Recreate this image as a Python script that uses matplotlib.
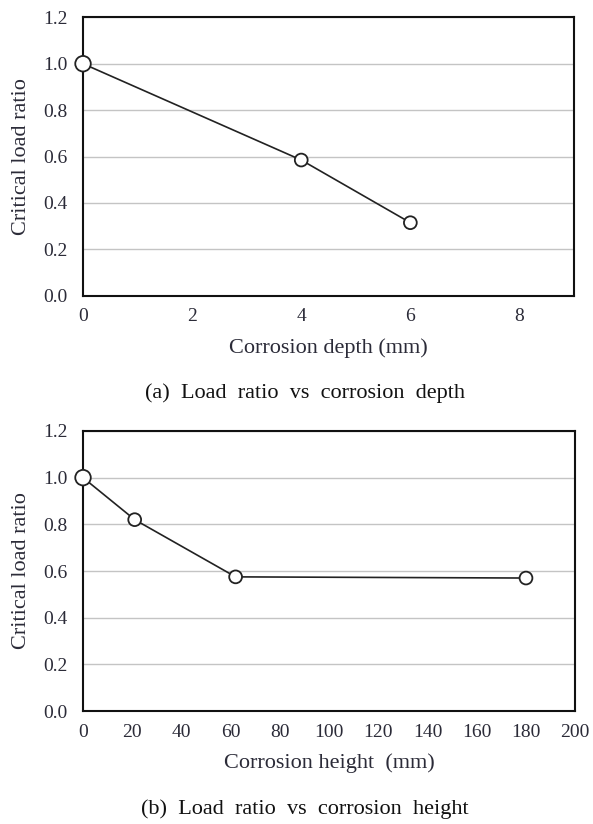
import numpy as np
import matplotlib
matplotlib.use("Agg")
import matplotlib.pyplot as plt

plt.rcParams['font.family'] = ['Liberation Serif', 'DejaVu Serif']

# (a) load ratio vs corrosion depth
depth = [0, 4, 6]
ratio_depth = [1.0, 0.585, 0.315]
depth_ticks = [0, 2, 4, 6, 8]

# (b) load ratio vs corrosion height
height = [0, 21, 62, 180]
ratio_height = [1.0, 0.82, 0.575, 0.57]
height_ticks = [0, 20, 40, 60, 80, 100, 120, 140, 160, 180, 200]

y_ticks = [0.0, 0.2, 0.4, 0.6, 0.8, 1.0, 1.2]

fig = plt.figure(figsize=(5.93, 8.24), dpi=100)
fig.patch.set_facecolor("white")

txt = "#2b2b38"

def style_axes(ax, xticks, xlim, xlabel):
    ax.set_xlim(xlim)
    ax.set_ylim(0, 1.2)
    ax.set_xticks(xticks)
    ax.set_yticks(y_ticks)
    ax.set_yticklabels(["%.1f" % v for v in y_ticks])
    ax.grid(axis="y", color="#c4c4c4", linewidth=1.0)
    ax.set_axisbelow(True)
    ax.tick_params(axis="y", length=0, labelsize=14, colors=txt, pad=11)
    ax.tick_params(axis="x", length=0, labelsize=14, colors=txt, pad=9)
    for s in ax.spines.values():
        s.set_linewidth(1.5)
        s.set_color("#111111")
    ax.set_xlabel(xlabel, fontsize=16, color=txt, labelpad=9)
    ax.set_ylabel("Critical load ratio", fontsize=16, color=txt, labelpad=9)

ax1 = fig.add_axes([0.14, 0.641, 0.828, 0.338])
ax1.plot(depth, ratio_depth, color="#222222", linewidth=1.2, zorder=2)
ax1.scatter(depth, ratio_depth, s=[125, 85, 85], facecolor="white",
            edgecolor="#222222", linewidth=1.3, zorder=3, clip_on=False)
style_axes(ax1, depth_ticks, (0, 9), "Corrosion depth (mm)")

ax2 = fig.add_axes([0.14, 0.137, 0.830, 0.340])
ax2.plot(height, ratio_height, color="#222222", linewidth=1.2, zorder=2)
ax2.scatter(height, ratio_height, s=[125, 85, 85, 85], facecolor="white",
            edgecolor="#222222", linewidth=1.3, zorder=3, clip_on=False)
style_axes(ax2, height_ticks, (0, 200), "Corrosion height  (mm)")

fig.text(0.514, 1 - 393 / 824, "(a)  Load  ratio  vs  corrosion  depth", ha="center",
         va="center", fontsize=16, color="#111111")
fig.text(0.514, 1 - 809 / 824, "(b)  Load  ratio  vs  corrosion  height", ha="center",
         va="center", fontsize=16, color="#111111")

fig.savefig("out.png", dpi=100)
